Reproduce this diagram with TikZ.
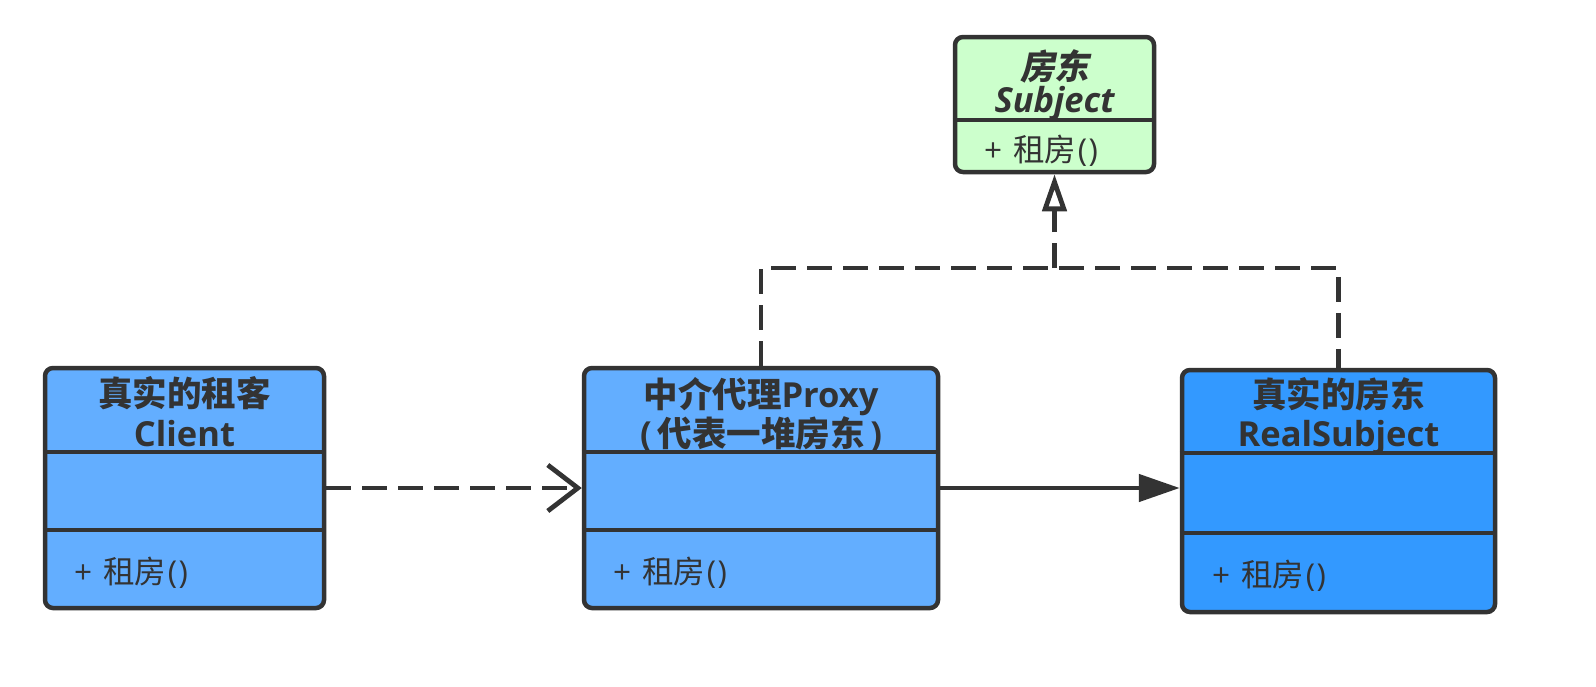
\documentclass[tikz,border=0pt]{standalone}
\usepackage{fontspec}
\setmainfont{Open Sans}
\newfontfamily\cjk{Noto Sans CJK SC}
\newfontfamily\cjksl{Noto Sans CJK SC}[FakeSlant=0.2]
\usetikzlibrary{arrows.meta}
\definecolor{ink}{HTML}{333333}
\definecolor{lblue}{HTML}{63AEFF}
\definecolor{dblue}{HTML}{3399FF}
\definecolor{lgreen}{HTML}{CCFFCC}
\newcommand{\umlop}{+\hspace{0.35em}{\cjk 租房}\hspace{0.05em}(\hspace{0.05em})}
\tikzset{
  umlbox/.style={draw=ink, line width=4.5pt, rounded corners=8pt, inner sep=0pt},
  divider/.style={draw=ink, line width=4.5pt},
  title/.style={font=\fontsize{34.5}{40}\selectfont\bfseries, text=ink, inner sep=0pt, anchor=base},
  body/.style={font=\fontsize{31.5}{36}\selectfont, text=ink, inner sep=0pt, anchor=base west},
  dep/.style={draw=ink, line width=4.8pt, dash pattern=on 25pt off 11pt},
  assoc/.style={draw=ink, line width=4.8pt},
}
\begin{document}
\begin{tikzpicture}[x=1pt,y=-1pt]
\fill[white] (0,0) rectangle (1596,686);
\useasboundingbox (0,0) rectangle (1596,686);

% boxes
\node[umlbox, fill=lblue, minimum width=279pt, minimum height=240pt] (client) at (184.5,488) {};
\node[umlbox, fill=lblue, minimum width=354pt, minimum height=240pt] (proxy) at (761,488) {};
\node[umlbox, fill=dblue, minimum width=313pt, minimum height=242pt] (real) at (1338.5,491) {};
\node[umlbox, fill=lgreen, minimum width=199pt, minimum height=135pt] (subject) at (1054.5,104.5) {};

% dividers
\draw[divider] (client.west |- 0,452) -- (client.east |- 0,452);
\draw[divider] (client.west |- 0,530) -- (client.east |- 0,530);
\draw[divider] (proxy.west |- 0,452) -- (proxy.east |- 0,452);
\draw[divider] (proxy.west |- 0,530) -- (proxy.east |- 0,530);
\draw[divider] (real.west |- 0,453) -- (real.east |- 0,453);
\draw[divider] (real.west |- 0,533) -- (real.east |- 0,533);
\draw[divider] (subject.west |- 0,120) -- (subject.east |- 0,120);

% texts
\node[title] (client-a) at (184.5,406) {\cjk 真实的租客};
\node[title] (client-b) at (184.5,446) {Client};
\node[body] (client-m) at (74,583) {\umlop};

\node[title] (proxy-a) at (761,407) {{\cjk 中介代理}Proxy};
\node[title] (proxy-b) at (761,446) {(\,{\cjk 代表一堆房东}\,)};
\node[body] (proxy-m) at (613,583) {\umlop};

\node[title] (real-a) at (1338.5,407) {\cjk 真实的房东};
\node[title] (real-b) at (1338.5,446) {RealSubject};
\node[body] (real-m) at (1212,586) {\umlop};

\node[title] (subject-a) at (1054.5,79) {\cjksl 房东};
\node[title, font=\fontsize{34.5}{40}\selectfont\bfseries\itshape] (subject-b) at (1054.5,112) {Subject};
\node[body] (subject-m) at (984,161) {\umlop};

% connectors
\draw[dep, -{Straight Barb[length=30pt,width=46pt]}] (client.east) -- (proxy.west);
\draw[assoc, -{Triangle[length=41pt,width=27pt]}] (proxy.east) -- (proxy.east -| real.west);
\coordinate (bus) at (0,268);
\draw[dep] (proxy.north) |- (bus -| subject.south) -| (real.north);
\draw[dep, -{Triangle[open,length=37pt,width=24pt,fill=white]}] (bus -| subject.south) -- (subject.south);
\end{tikzpicture}
\end{document}
